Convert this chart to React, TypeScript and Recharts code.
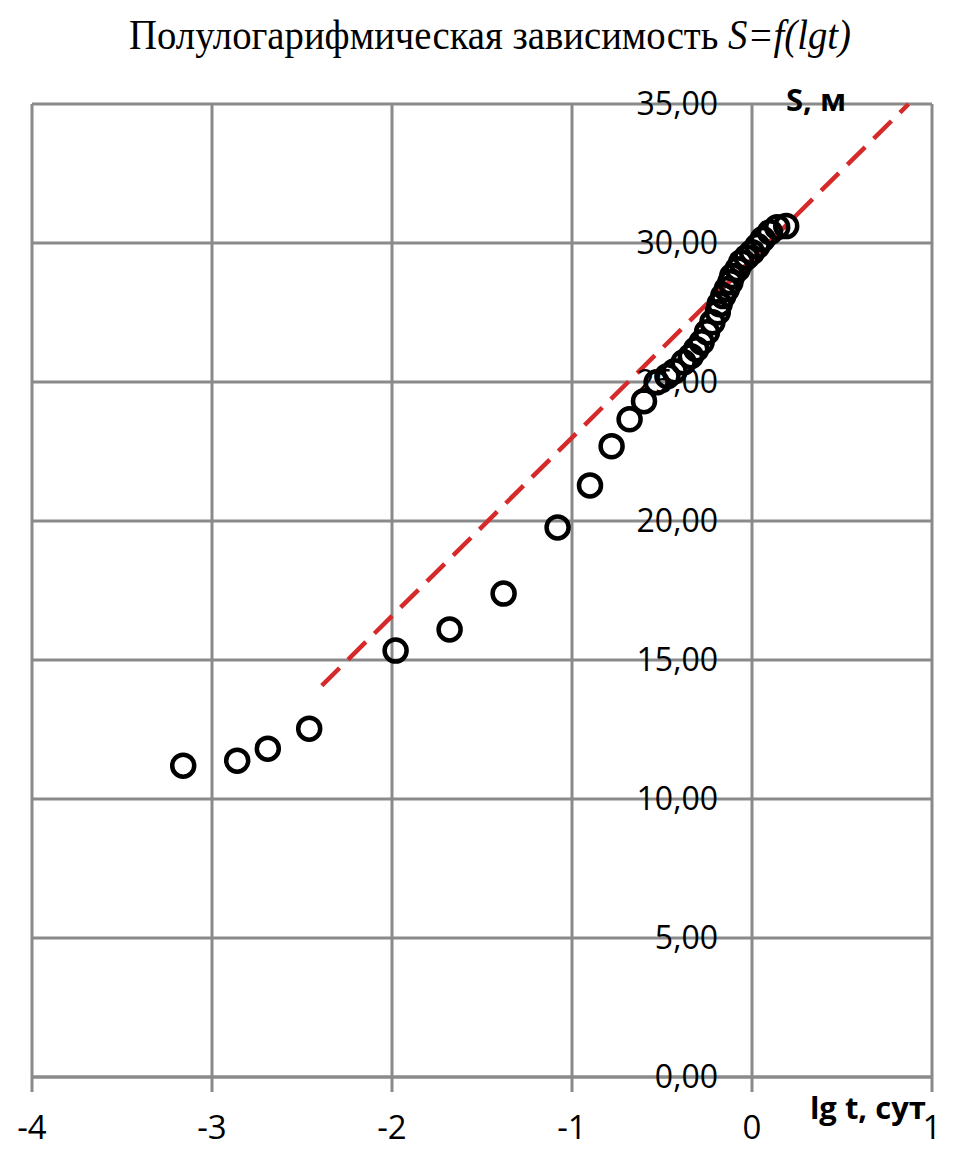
import React from "react"
import {
  ScatterChart,
  Scatter,
  XAxis,
  YAxis,
  CartesianGrid,
  ReferenceDot,
} from "recharts"

// lg t, сут
const LG_T = [
  -3.16, -2.86, -2.69, -2.46, -1.98, -1.68, -1.38, -1.08, -0.9, -0.78, -0.68,
  -0.6, -0.53, -0.47, -0.43, -0.38, -0.34, -0.31, -0.28, -0.25, -0.22, -0.19,
  -0.18, -0.16, -0.14, -0.12, -0.11, -0.08, -0.06, -0.03, 0.0, 0.03, 0.06, 0.1,
  0.14, 0.19,
]

// S, м
const S = [
  11.2, 11.38, 11.81, 12.53, 15.34, 16.1, 17.39, 19.77, 21.28, 22.69, 23.66,
  24.31, 24.99, 25.21, 25.39, 25.71, 25.93, 26.18, 26.43, 26.79, 27.15, 27.51,
  27.8, 28.09, 28.34, 28.59, 28.81, 29.06, 29.31, 29.49, 29.67, 29.89, 30.14,
  30.39, 30.57, 30.61,
]

// dashed trend line ends
const TREND_X = [-2.39, 0.87]
const TREND_S = [14.08, 35.0]

const X_TICKS = [-4, -3, -2, -1, 0, 1]
const Y_TICKS = [0, 5, 10, 15, 20, 25, 30, 35]

const points = LG_T.map((x, i) => ({ x, y: S[i] }))
const trend = TREND_X.map((x, i) => ({ x, y: TREND_S[i] }))

const GRID = "#8a8a8a"
const FONT = "'Open Sans', sans-serif"

const fmt = (v: number) => v.toFixed(2).replace(".", ",")

const Ring = (props: any) => {
  const { cx, cy } = props
  if (cx == null || cy == null) return null
  return <circle cx={cx} cy={cy} r={11} fill="none" stroke="#000" strokeWidth={4.5} />
}

export default function App() {
  return (
    <div style={{ position: "absolute", left: 0, top: 0, width: 955, height: 1161, background: "#fff" }}>
      <div
        style={{
          position: "absolute",
          top: 10,
          left: 0,
          width: 980,
          textAlign: "center",
          fontFamily: "'Liberation Serif', 'Times New Roman', serif",
          fontSize: 43,
          color: "#000",
          transform: "scaleX(0.9)",
          transformOrigin: "490px 0",
        }}
      >
        Полулогарифмическая зависимость <i>S=f(lgt)</i>
      </div>
      <ScatterChart
        width={955}
        height={1161}
        margin={{ top: 104, right: 23, bottom: 34, left: 32 }}
        style={{ position: "absolute", left: 0, top: 0 }}
      >
        <CartesianGrid stroke={GRID} strokeWidth={3} />
        <XAxis
          type="number"
          dataKey="x"
          domain={[-4, 1]}
          ticks={X_TICKS}
          interval={0}
          height={50}
          allowDataOverflow
          axisLine={{ stroke: GRID, strokeWidth: 3 }}
          tickLine={{ stroke: GRID, strokeWidth: 3 }}
          tickSize={15}
          tickMargin={24}
          tick={{ fontSize: 33, fill: "#000", fontFamily: FONT }}
        />
        <YAxis type="number" dataKey="y" domain={[0, 35]} ticks={Y_TICKS} hide />
        {Y_TICKS.map((v) => (
          <ReferenceDot
            key={v}
            x={0}
            y={v}
            r={0}
            stroke="none"
            fill="none"
            label={{
              value: fmt(v),
              position: "left",
              offset: 34,
              fontSize: 32,
              fill: "#000",
              fontFamily: FONT,
            }}
          />
        ))}
        <ReferenceDot
          x={0}
          y={35}
          r={0}
          stroke="none"
          fill="none"
          label={{
            value: "S, м",
            position: "right",
            offset: 34,
            fontSize: 31,
            fontWeight: 700,
            fill: "#000",
            fontFamily: FONT,
            dy: -4,
          }}
        />
        <ReferenceDot
          x={1}
          y={0}
          r={0}
          stroke="none"
          fill="none"
          label={{
            value: "lg t, сут",
            position: "left",
            offset: 6,
            fontSize: 31,
            fontWeight: 700,
            fill: "#000",
            fontFamily: FONT,
            dy: 31,
          }}
        />
        <Scatter
          data={trend}
          line={{ stroke: "#d62a2a", strokeWidth: 4.5, strokeDasharray: "25 12" }}
          shape={() => null}
          isAnimationActive={false}
        />
        <Scatter data={points} shape={Ring} isAnimationActive={false} />
      </ScatterChart>
    </div>
  )
}
